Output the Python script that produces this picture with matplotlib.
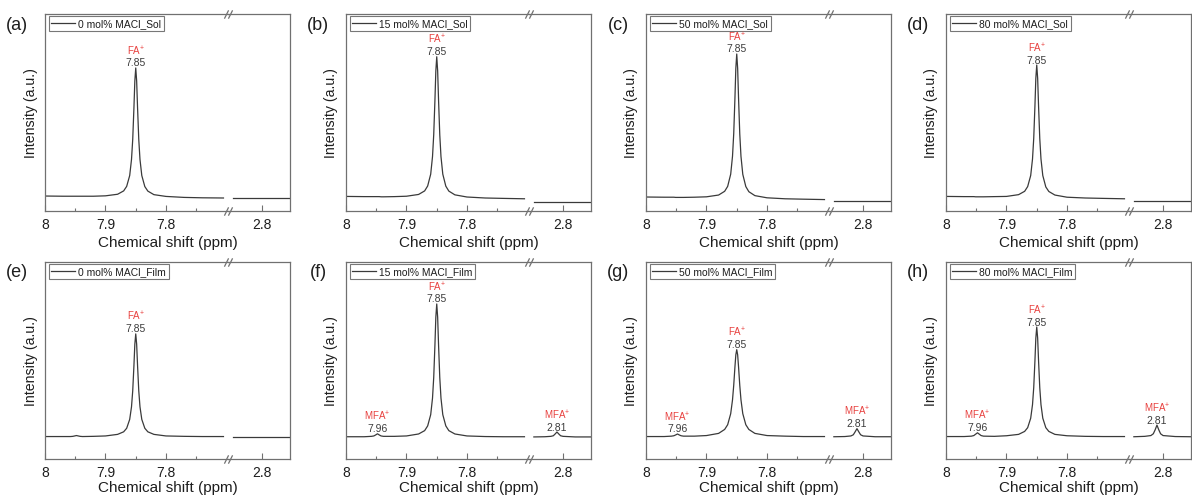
import matplotlib
matplotlib.use('Agg')
import matplotlib.pyplot as plt

plt.rcParams['font.family'] = ['Liberation Sans', 'DejaVu Sans']
plt.rcParams['mathtext.default'] = 'regular'

# ---------------- data (chemical shift in ppm, intensity in a.u.) ----------------
LEFT_SHIFT = [8.00, 7.97, 7.958, 7.954, 7.951, 7.948, 7.945, 7.942, 7.938, 7.92,
              7.90, 7.88, 7.87, 7.865, 7.86, 7.857, 7.855, 7.853, 7.8515, 7.85,
              7.8485, 7.847, 7.845, 7.843, 7.84, 7.835, 7.83, 7.82, 7.80, 7.77,
              7.74, 7.705]
RIGHT_SHIFT = [2.848, 2.83, 2.82, 2.816, 2.813, 2.81, 2.807, 2.804, 2.80, 2.78, 2.755]

SOL0_LEFT = [7.6, 7.5, 7.5, 7.5, 7.5, 7.5, 7.5, 7.5, 7.5, 7.5, 7.7, 8.5, 10.2, 12.5, 18.0, 26.2,
             36.3, 52.4, 66.0, 72.6, 66.0, 52.4, 36.3, 26.2, 18.0, 12.4, 10.1, 8.3, 7.4, 6.9, 6.7, 6.6]
SOL0_RIGHT = [6.5, 6.5, 6.5, 6.5, 6.5, 6.5, 6.5, 6.5, 6.5, 6.5, 6.5]
SOL15_LEFT = [7.4, 7.3, 7.3, 7.3, 7.3, 7.3, 7.3, 7.2, 7.2, 7.3, 7.5, 8.4, 10.2, 12.7, 18.7, 27.6,
              38.7, 56.2, 71.1, 78.3, 71.1, 56.2, 38.7, 27.6, 18.7, 12.6, 10.1, 8.2, 7.1, 6.6, 6.4, 6.2]
SOL15_RIGHT = [4.7, 4.7, 4.7, 4.7, 4.7, 4.7, 4.7, 4.7, 4.7, 4.7, 4.7]
SOL50_LEFT = [7.1, 7.0, 7.0, 7.0, 6.9, 6.9, 6.9, 6.9, 6.9, 7.0, 7.2, 8.1, 10.0, 12.5, 18.7, 27.8,
              39.2, 57.2, 72.5, 79.7, 72.4, 57.1, 39.1, 27.7, 18.6, 12.4, 9.8, 7.8, 6.7, 6.2, 6.0, 5.8]
SOL50_RIGHT = [4.9, 4.9, 4.9, 4.9, 4.9, 4.9, 4.9, 4.9, 4.9, 4.9, 4.9]
SOL80_LEFT = [7.4, 7.3, 7.3, 7.3, 7.2, 7.2, 7.2, 7.2, 7.2, 7.3, 7.4, 8.3, 10.0, 12.4, 18.0, 26.4,
              36.8, 53.3, 67.4, 74.1, 67.4, 53.3, 36.8, 26.4, 18.0, 12.2, 9.9, 8.1, 7.0, 6.6, 6.4, 6.2]
SOL80_RIGHT = [4.9, 4.9, 4.9, 4.9, 4.9, 4.9, 4.9, 4.9, 4.9, 4.9, 4.9]

FILM0_LEFT = [11.4, 11.4, 11.4, 11.5, 11.7, 11.9, 11.7, 11.5, 11.4, 11.5, 11.7, 12.5, 13.8, 15.6,
              20.1, 26.5, 34.6, 47.4, 58.3, 63.5, 58.3, 47.4, 34.6, 26.5, 20.1, 15.6, 13.8, 12.5,
              11.7, 11.5, 11.4, 11.4]
FILM0_RIGHT = [11.3, 11.3, 11.3, 11.3, 11.3, 11.3, 11.3, 11.3, 11.3, 11.3, 11.3]
FILM15_LEFT = [11.3, 11.3, 11.5, 11.7, 12.2, 12.8, 12.2, 11.7, 11.5, 11.5, 11.7, 12.7, 14.4, 16.8,
               22.5, 30.9, 41.4, 57.9, 72.0, 78.7, 72.0, 57.9, 41.4, 30.9, 22.5, 16.8, 14.4, 12.7,
               11.7, 11.4, 11.3, 11.3]
FILM15_RIGHT = [11.2, 11.3, 11.5, 11.8, 12.7, 13.7, 12.7, 11.8, 11.5, 11.2, 11.2]
FILM50_LEFT = [11.4, 11.4, 11.6, 11.8, 12.2, 12.7, 12.2, 11.8, 11.6, 11.6, 11.9, 13.0, 15.0, 17.4,
               23.0, 30.0, 37.4, 46.7, 52.9, 55.5, 52.9, 46.7, 37.4, 30.0, 23.0, 17.4, 15.0, 13.0,
               11.9, 11.6, 11.4, 11.4]
FILM50_RIGHT = [11.3, 11.4, 11.7, 12.3, 13.8, 15.4, 13.8, 12.3, 11.7, 11.3, 11.3]
FILM80_LEFT = [11.4, 11.4, 11.6, 11.9, 12.6, 13.3, 12.6, 11.9, 11.6, 11.5, 11.8, 12.5, 14.0, 15.9,
               20.7, 27.6, 36.2, 49.8, 61.4, 67.0, 61.4, 49.8, 36.2, 27.6, 20.7, 15.9, 14.0, 12.5,
               11.8, 11.5, 11.4, 11.4]
FILM80_RIGHT = [11.3, 11.5, 11.9, 12.8, 14.8, 17.2, 14.8, 12.8, 11.9, 11.4, 11.3]

PANEL_TAGS = ['(a)', '(b)', '(c)', '(d)', '(e)', '(f)', '(g)', '(h)']
LEGEND_LABELS = ['0 mol% MACl_Sol', '15 mol% MACl_Sol', '50 mol% MACl_Sol', '80 mol% MACl_Sol',
                 '0 mol% MACl_Film', '15 mol% MACl_Film', '50 mol% MACl_Film', '80 mol% MACl_Film']
LEFT_SERIES = [SOL0_LEFT, SOL15_LEFT, SOL50_LEFT, SOL80_LEFT,
               FILM0_LEFT, FILM15_LEFT, FILM50_LEFT, FILM80_LEFT]
RIGHT_SERIES = [SOL0_RIGHT, SOL15_RIGHT, SOL50_RIGHT, SOL80_RIGHT,
                FILM0_RIGHT, FILM15_RIGHT, FILM50_RIGHT, FILM80_RIGHT]
HAS_MFA = [False, False, False, False, False, True, True, True]

FA_SHIFT = 7.85
FA_TEXT = '7.85'
MFA_LEFT_SHIFT = 7.948
MFA_LEFT_TEXT = '7.96'
MFA_RIGHT_SHIFT = 2.81
MFA_RIGHT_TEXT = '2.81'

LEFT_XLIM = (8.0, 7.6975)
RIGHT_XLIM = (2.856, 2.754)
LEFT_MAJOR = [8.0, 7.9, 7.8]
LEFT_MAJOR_LABELS = ['8', '7.9', '7.8']
LEFT_MINOR = [7.95, 7.85, 7.75]
RIGHT_MAJOR = [2.8]
RIGHT_MAJOR_LABELS = ['2.8']

# ---------------- style ----------------
W, H = 1192, 502
LINE_C = '#3a3a3a'
SPINE_C = '#707070'
RED = '#e8413f'
NUM_C = '#3c3c3c'

fig = plt.figure(figsize=(W / 100, H / 100), dpi=100)

COL_X = [45, 346, 646, 946]
ROW_TOP = [15, 263]
AX_H = 197
LEFT_W = 183
RIGHT_W = 62
XLABEL_OFF = [31, 28]


def fx(px):
    return px / W


def fy(py):
    return 1 - py / H


def label_peak(ax, x, y, name, value):
    ax.annotate(value, xy=(x, y), xytext=(0, 1.8), textcoords='offset points',
                ha='center', va='baseline', fontsize=7.5, color=NUM_C, zorder=8)
    ax.annotate(name + '$^{+}$', xy=(x, y), xytext=(0, 10.0), textcoords='offset points',
                ha='center', va='baseline', fontsize=7.0, color=RED, zorder=8)


for i in range(8):
    r, c = divmod(i, 4)
    x0 = COL_X[c]
    top = ROW_TOP[r]
    bottom = top + AX_H
    axl = fig.add_axes([fx(x0), fy(bottom), fx(LEFT_W), AX_H / H])
    axr = fig.add_axes([fx(x0 + LEFT_W), fy(bottom), fx(RIGHT_W), AX_H / H])
    for ax in (axl, axr):
        ax.patch.set_visible(False)
        ax.set_ylim(0, 100)
        ax.set_yticks([])
        for s in ax.spines.values():
            s.set_color(SPINE_C)
            s.set_linewidth(0.9)
        ax.tick_params(axis='x', which='both', direction='in', colors=SPINE_C,
                       labelcolor='#1e1e1e', labelsize=10, pad=4.5, top=False)
        ax.tick_params(axis='x', which='major', length=4, width=0.8)
        ax.tick_params(axis='x', which='minor', length=2.5, width=0.8)
    axl.spines['right'].set_visible(False)
    axr.spines['left'].set_visible(False)

    axl.set_xlim(*LEFT_XLIM)
    axr.set_xlim(*RIGHT_XLIM)
    axl.set_xticks(LEFT_MAJOR)
    axl.set_xticklabels(LEFT_MAJOR_LABELS)
    axl.set_xticks(LEFT_MINOR, minor=True)
    axr.set_xticks(RIGHT_MAJOR)
    axr.set_xticklabels(RIGHT_MAJOR_LABELS)

    axl.plot(LEFT_SHIFT, LEFT_SERIES[i], color=LINE_C, lw=0.9, label=LEGEND_LABELS[i])
    axr.plot(RIGHT_SHIFT, RIGHT_SERIES[i], color=LINE_C, lw=0.9)

    # break marks
    slash = [(-0.5, -1), (0.5, 1)]
    for yy in (0, 1):
        axl.plot([1 - 0.009, 1 + 0.009], [yy, yy], transform=axl.transAxes, ls='none',
                 marker=slash, markersize=6, mew=0.9, color=SPINE_C, clip_on=False, zorder=5)

    leg = axl.legend(loc='upper left', bbox_to_anchor=(4 / LEFT_W, 1 - 2 / AX_H),
                     borderaxespad=0, fontsize=7.4, frameon=True, fancybox=False,
                     handlelength=2.3, handletextpad=0.35, borderpad=0.22)
    leg.get_frame().set_edgecolor('#555555')
    leg.get_frame().set_linewidth(0.8)
    leg.set_zorder(4)
    for t in leg.get_texts():
        t.set_color('#1e1e1e')

    axl.set_ylabel('Intensity (a.u.)', fontsize=10.2, color='#1e1e1e')
    axl.yaxis.set_label_coords(-7.5 / LEFT_W, 0.5)

    ys = LEFT_SERIES[i]
    label_peak(axl, FA_SHIFT, ys[LEFT_SHIFT.index(FA_SHIFT)], 'FA', FA_TEXT)
    if HAS_MFA[i]:
        label_peak(axl, MFA_LEFT_SHIFT, ys[LEFT_SHIFT.index(MFA_LEFT_SHIFT)], 'MFA', MFA_LEFT_TEXT)
        yr = RIGHT_SERIES[i]
        label_peak(axr, MFA_RIGHT_SHIFT, yr[RIGHT_SHIFT.index(MFA_RIGHT_SHIFT)], 'MFA', MFA_RIGHT_TEXT)

    fig.text(fx(x0 + (LEFT_W + RIGHT_W) / 2), fy(bottom + XLABEL_OFF[r]), 'Chemical shift (ppm)',
             ha='center', va='center', fontsize=11, color='#1e1e1e')
    fig.text(fx(x0 - 28), fy(top + 10), PANEL_TAGS[i], ha='center', va='center',
             fontsize=13, color='#1e1e1e')

fig.savefig('out.png', dpi=100, facecolor='white')
